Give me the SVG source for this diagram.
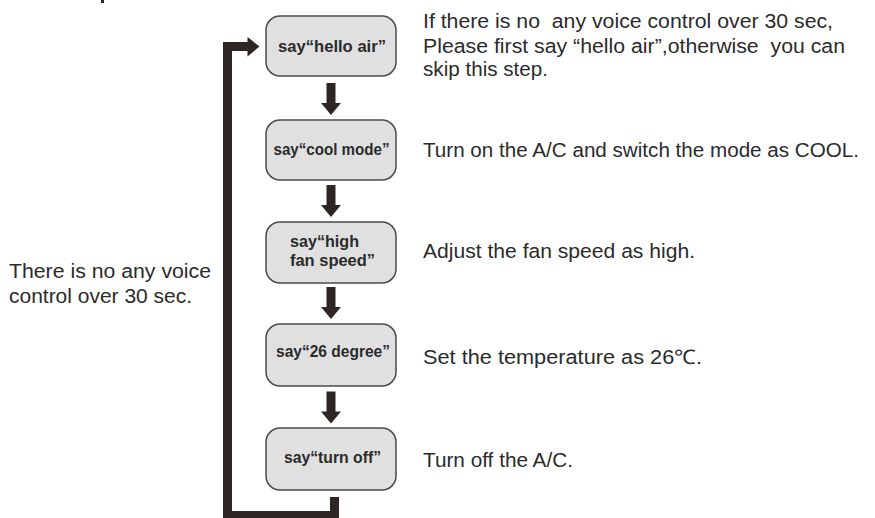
<svg xmlns="http://www.w3.org/2000/svg" width="875" height="518" viewBox="0 0 875 518">
<style>
.box{fill:#e0e0e0;stroke:#4a4a4a;stroke-width:1.5}
.bt{font-family:"Liberation Sans",Arial,sans-serif;font-weight:bold;font-size:16px;fill:#2b2b2b}
.t{font-family:"Liberation Sans",Arial,sans-serif;font-size:20px;fill:#2b2b2b;white-space:pre}
.ln{fill:#2d2624}
</style>
<defs>
<path id="dn" d="M-4.5,0 H4.5 V20 H10 L0,32 L-10,20 H-4.5 Z"/>
</defs>
<rect x="101" y="0" width="3" height="3" class="ln"/>
<g id="connectors">
<use href="#dn" x="331" y="83" class="ln"/>
<use href="#dn" x="331" y="185" class="ln"/>
<use href="#dn" x="331" y="287" class="ln"/>
<use href="#dn" x="331" y="391.5" class="ln"/>
<path class="ln" d="M330,497 H339 V518 H223 V42 H247.5 V37 L259.5,46.5 L247.5,56.5 V51 H232 V511 H330 Z"/>
</g>
<g id="n1">
<rect class="box" x="266" y="16" width="130" height="60" rx="14"/>
<text class="bt" x="278" y="52" textLength="108" lengthAdjust="spacingAndGlyphs">say“hello air”</text>
</g>
<g id="n2">
<rect class="box" x="266" y="120" width="130" height="60" rx="14"/>
<text class="bt" x="273.5" y="155" textLength="116" lengthAdjust="spacingAndGlyphs">say“cool mode”</text>
</g>
<g id="n3">
<rect class="box" x="266" y="222" width="130" height="61" rx="14"/>
<text class="bt" x="290" y="247" textLength="69" lengthAdjust="spacingAndGlyphs">say“high</text>
<text class="bt" x="290" y="266" textLength="85" lengthAdjust="spacingAndGlyphs">fan speed”</text>
</g>
<g id="n4">
<rect class="box" x="266" y="324" width="130" height="62" rx="14"/>
<text class="bt" x="276" y="357" textLength="114" lengthAdjust="spacingAndGlyphs">say“26 degree”</text>
</g>
<g id="n5">
<rect class="box" x="266" y="428" width="130" height="62" rx="14"/>
<text class="bt" x="284" y="463" textLength="97" lengthAdjust="spacingAndGlyphs">say“turn off”</text>
</g>
<g id="notes">
<text class="t" x="423" y="28" xml:space="preserve" textLength="410" lengthAdjust="spacingAndGlyphs">If there is no  any voice control over 30 sec,</text>
<text class="t" x="423" y="53" xml:space="preserve" textLength="422" lengthAdjust="spacingAndGlyphs">Please first say “hello air”,otherwise  you can</text>
<text class="t" x="423" y="76" textLength="125" lengthAdjust="spacingAndGlyphs">skip this step.</text>
<text class="t" x="423" y="157" textLength="436" lengthAdjust="spacingAndGlyphs">Turn on the A/C and switch the mode as COOL.</text>
<text class="t" x="423" y="258" textLength="272" lengthAdjust="spacingAndGlyphs">Adjust the fan speed as high.</text>
<text class="t" x="423" y="364" textLength="279" lengthAdjust="spacingAndGlyphs">Set the temperature as 26℃.</text>
<text class="t" x="423" y="467" textLength="150" lengthAdjust="spacingAndGlyphs">Turn off the A/C.</text>
<text class="t" x="9" y="278" textLength="202" lengthAdjust="spacingAndGlyphs">There is no any voice</text>
<text class="t" x="9" y="303" textLength="183" lengthAdjust="spacingAndGlyphs">control over 30 sec.</text>
</g>
</svg>
